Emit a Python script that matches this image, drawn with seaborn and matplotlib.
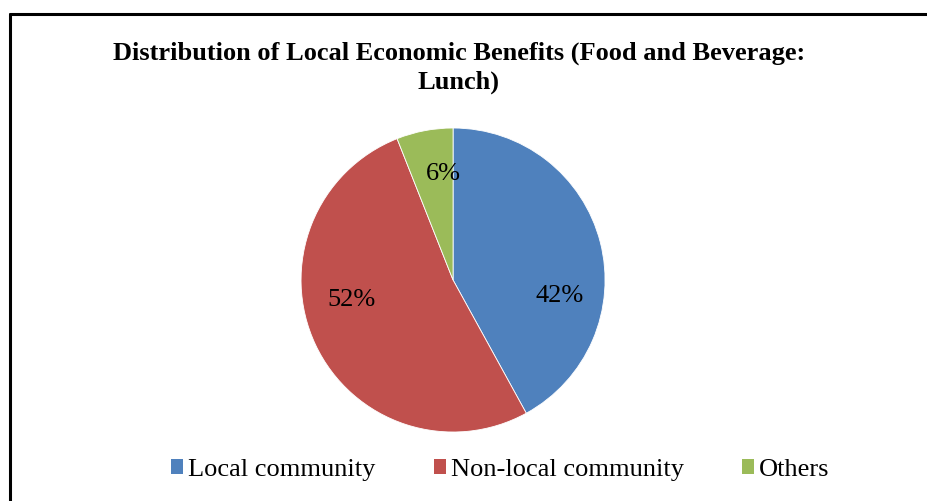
import matplotlib
matplotlib.use("Agg")
import matplotlib.pyplot as plt
import seaborn as sns
from matplotlib.patches import Patch
from matplotlib.lines import Line2D

categories = ["Local community", "Non-local community", "Others"]
values = [42, 52, 6]
label_texts = ["42%", "52%", "6%"]
title = "Distribution of Local Economic Benefits (Food and Beverage:\nLunch)"

sns.set_theme(style="white")
plt.rcParams['font.family'] = ['Liberation Serif', 'DejaVu Serif']
plt.rcParams['text.color'] = 'black'

colors = sns.color_palette(["#4F81BD", "#C0504D", "#9BBB59"])

fig = plt.figure(figsize=(9.28, 5.01), dpi=100)
fig.patch.set_facecolor("white")

ax = fig.add_axes([0.3244, 0.1377, 0.3276, 0.6068])
wedges, texts, autotexts = ax.pie(values, colors=colors, startangle=90, counterclock=False,
                                  radius=1.0, autopct="%1.0f%%", pctdistance=0.65,
                                  wedgeprops=dict(linewidth=0.6, edgecolor="white"),
                                  textprops=dict(fontsize=19, color="black"))
ax.set_xlim(-1, 1)
ax.set_ylim(-1, 1)
ax.set_aspect("equal")
ax.axis("off")

# label placement similar to reference (best-fit style)
label_pos = [(0.704, -0.105), (-0.668, -0.132), (-0.0625, 0.70)]
for t, txt, pos in zip(autotexts, label_texts, label_pos):
    t.set_text(txt)
    t.set_position(pos)
    t.set_ha("center")
    t.set_va("center")

fig.text(0.4946, 0.865, title, ha="center", va="center", fontsize=19,
         fontweight="bold", linespacing=1.3, color="black")

handles = [Patch(facecolor=c, edgecolor="none") for c in colors]
fig.legend(handles, categories, loc="center", bbox_to_anchor=(0.539, 0.062), ncol=3,
           frameon=False, fontsize=19, handlelength=0.45, handleheight=0.45,
           handletextpad=0.19, columnspacing=2.2, labelcolor="black")

# partial border (top and left), as in the cropped reference
fig.add_artist(Line2D([10/928, 1.0], [1 - 14/501, 1 - 14/501], transform=fig.transFigure,
                      color="black", linewidth=2.2))
fig.add_artist(Line2D([10/928, 10/928], [0.0, 1 - 14/501], transform=fig.transFigure,
                      color="black", linewidth=2.2))

fig.savefig("out.png", dpi=100, facecolor="white")
